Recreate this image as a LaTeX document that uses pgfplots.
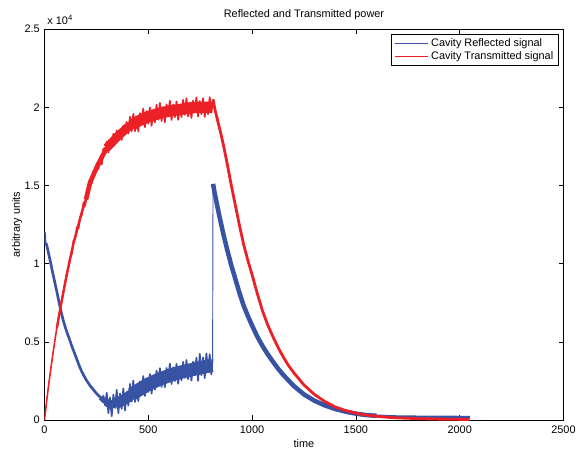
\documentclass[border=0pt]{standalone}
\usepackage{fontspec}
\setmainfont{Liberation Sans}
\usepackage{pgfplots}
\pgfplotsset{compat=1.18}
\usetikzlibrary{calc}
\definecolor{bl}{RGB}{56,83,164}
\definecolor{rd}{RGB}{236,32,39}

\begin{document}
\begin{tikzpicture}[font=\fontsize{8.2}{10}\selectfont]
\begin{axis}[
    scale only axis,
    width=390pt, height=294pt,
    xmin=0, xmax=2500, ymin=0, ymax=25000,
    xtick={0,500,...,2500},
    ytick={0,5000,...,25000},
    yticklabels={0,0.5,1,1.5,2,2.5},
    scaled y ticks=false,
    /pgf/number format/1000 sep={},
    /pgf/number format/assume math mode=true,
    tick align=inside, tick pos=both,
    major tick length=3.75pt,
    axis line style={line width=0.6pt},
    every tick/.style={black, line width=0.5pt},
    xticklabel style={yshift=-1pt},
    xlabel={time}, ylabel={arbitrary units},
    xlabel style={yshift=2.5pt},
    ylabel style={yshift=-5pt},
    title={Reflected and Transmitted power},
    title style={yshift=-3pt},
    legend style={at={(rel axis cs:1,1)}, anchor=north east,
        xshift=-3.4pt, yshift=-3.75pt, draw=black, line width=0.6pt,
        inner xsep=2pt, inner ysep=1pt, row sep=-1.5pt},
    legend cell align=left,
    legend image code/.code={\draw[#1] (0pt,0pt) -- (25pt,0pt);},
    line join=round,
]
\coordinate (sw) at (rel axis cs:0,0);
\coordinate (ne) at (rel axis cs:1,1);

\addlegendimage{bl, line width=0.6pt}
\addlegendentry{Cavity Reflected signal}
\addlegendimage{rd, line width=0.6pt}
\addlegendentry{Cavity Transmitted signal}

% ---------------- reflected signal ----------------
\addplot[bl, line width=2pt, forget plot] coordinates {
(0,12000) (3,11300) (10,11250) (20,10650) (30,10050) (40,9400) (50,8800) (60,8200) (70,7550)
(80,6950) (90,6400) (100,5950) (110,5550) (120,5200) (130,4800) (140,4450) (150,4100) (160,3750)
(170,3400) (180,3100) (190,2850) (200,2600) (210,2400) (220,2200) (230,2050) (240,1880) (250,1720)
(260,1580) (270,1450) (280,1330)
};
% noisy band: solid core
\addplot[bl, line width=3.5pt, forget plot] coordinates {(270,1450) (285,1250) (300,1120)};
\addplot[bl, line width=6pt, forget plot] coordinates {(300,1120) (320,1020) (340,1050)};
\addplot[bl, line width=8pt, forget plot] coordinates {(340,1050) (360,1150) (380,1300) (400,1450) (420,1650)};
\addplot[bl, line width=10pt, forget plot] coordinates {
(420,1650) (450,1900) (475,2100) (500,2300) (550,2600) (600,2850) (650,3050) (700,3200) (750,3350)
(808,3500)
};
% noisy band: spikes
\addplot[bl, line width=1.3pt, forget plot] coordinates {
(280,1330) (284,1560) (292,950) (300,1750) (308,460) (316,1450) (324,260) (332,1640) (340,780)
(348,1940) (356,460) (364,1710) (372,730) (380,2030) (388,620) (396,1800) (404,940) (412,2320)
(420,1190) (428,2540) (436,1170) (444,2270) (452,1220) (460,2480) (468,1770) (476,2820) (484,1550)
(492,2660) (500,1810) (508,2950) (516,1700) (524,2720) (532,1960) (540,3170) (548,2170) (556,3320)
(564,2130) (572,3100) (580,2110) (588,3340) (596,2610) (604,3610) (612,2310) (620,3380) (628,2500)
(636,3610) (644,2330) (652,3340) (660,2550) (668,3730) (676,2710) (684,3850) (692,2620) (700,3550)
(708,2530) (716,3740) (724,2990) (732,3990) (740,2520) (748,4250) (756,2880) (764,4010) (772,2690)
(780,4260) (788,3090) (796,4210) (804,2930) (810,3950)
};
\addplot[bl, line width=0.7pt, forget plot] coordinates {(810,3950) (812,15100)};
\addplot[bl, line width=3.4pt, forget plot] coordinates {
(812,15100) (820,14500) (840,13200) (860,12000) (880,10900) (900,9900) (920,9000) (940,8100)
(960,7300) (980,6650) (1000,6050) (1025,5350) (1050,4750) (1075,4220) (1100,3750) (1125,3300)
(1150,2900) (1175,2550) (1200,2200) (1250,1650) (1300,1250) (1350,950) (1400,720) (1450,550)
(1500,420) (1550,330) (1600,280)
};
\addplot[bl, line width=2pt, forget plot] coordinates {
(1600,280) (1650,250) (1700,230) (1800,215) (1900,205) (2000,200) (2050,200)
};

% ---------------- transmitted signal ----------------
\addplot[rd, line width=1.2pt, forget plot] coordinates {
(0,0) (10,1160) (20,2230) (30,3220) (40,4170) (50,5080) (60,5930) (70,6720) (80,7450) (90,8130)
(100,8800)
};
% noisy band: solid core
\addplot[rd, line width=1.8pt, forget plot] coordinates {(60,5900) (80,7400) (100,8800) (120,10100) (140,11300) (160,12300) (180,13300) (200,14100)};
\addplot[rd, line width=3.5pt, forget plot] coordinates {(200,14100) (220,15200) (250,16100) (280,16900) (300,17400)};
\addplot[rd, line width=6.5pt, forget plot] coordinates {(300,17400) (350,18100) (400,18700) (420,18850)};
\addplot[rd, line width=8.5pt, forget plot] coordinates {
(420,18850) (450,19100) (500,19400) (550,19600) (600,19750) (650,19850) (700,19950) (750,20000)
(808,20000)
};
% noisy band: spikes
\addplot[rd, line width=1.3pt, forget plot] coordinates {
(100,8800) (108,9420) (116,9760) (124,10390) (132,10640) (140,11480) (148,11600) (156,12330)
(164,12250) (172,12990) (180,13120) (188,13920) (196,13700) (204,14620) (212,14550) (220,15350)
(228,15140) (236,15920) (244,15800) (252,16420) (260,16050) (268,16810) (276,16340) (284,17360)
(292,17020) (300,17810) (308,17100) (316,17760) (324,17470) (332,18300) (340,17600) (348,18520)
(356,17850) (364,18500) (372,17910) (380,18820) (388,18380) (396,19060) (404,18320) (412,19380)
(420,18470) (428,19570) (436,18470) (444,19380) (452,18460) (460,19620) (468,18950) (476,19910)
(484,18720) (492,19740) (500,18950) (508,19980) (516,18810) (524,19760) (532,19040) (540,20150)
(548,19200) (556,20270) (564,19120) (572,20000) (580,19040) (588,20180) (596,19480) (604,20410)
(612,19190) (620,20180) (628,19360) (636,20370) (644,19190) (652,20110) (660,19380) (668,20470)
(676,19510) (684,20570) (692,19410) (700,20280) (708,19310) (716,20420) (724,19720) (732,20630)
(740,19410) (748,20390) (756,19550) (764,20570) (772,19380) (780,20290) (788,19550) (796,20640)
(804,19660) (812,20500)
};
\addplot[rd, line width=2.1pt, forget plot] coordinates {
(812,20500) (822,19800) (835,19100) (850,18300) (865,17400) (880,16400) (900,15000) (920,13700)
(940,12400) (960,11200) (980,10200) (1000,9300) (1025,8100) (1050,7000) (1075,6100) (1100,5350)
(1125,4650) (1150,4050) (1175,3500) (1200,3050) (1250,2250) (1300,1650) (1350,1200) (1400,850)
(1450,620) (1500,450) (1550,330) (1600,250) (1650,190) (1700,150) (1800,100) (1900,70) (2000,55)
(2048,50)
};
\end{axis}
\node[anchor=south west, inner sep=0pt] at ($(sw|-ne)+(2pt,3pt)$) {x 10\textsuperscript{4}};
\pgfresetboundingbox
\path[use as bounding box] ($(sw)+(-33.4pt,-23.25pt)$) rectangle ($(ne)+(9.4pt,21.75pt)$);
\end{tikzpicture}
\end{document}
